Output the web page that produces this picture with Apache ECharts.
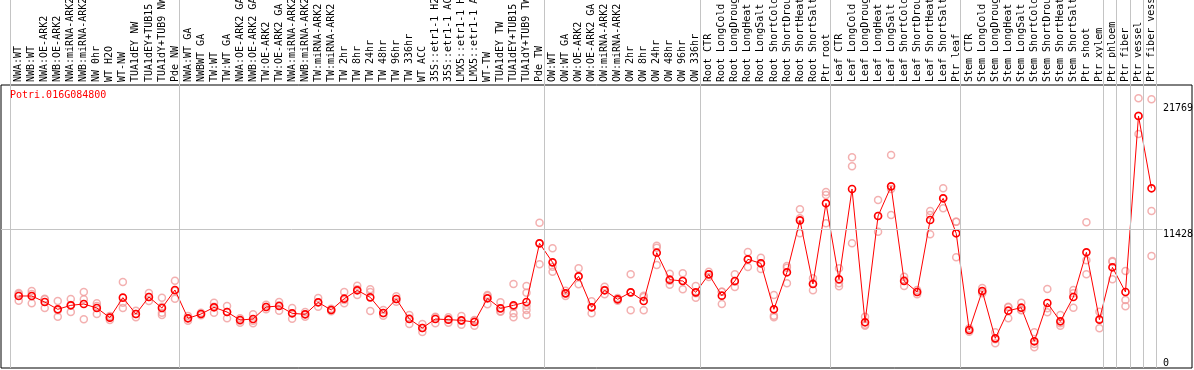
<!DOCTYPE html>
<html>
<head>
<meta charset="utf-8">
<script src="https://cdn.jsdelivr.net/npm/echarts@6/dist/echarts.min.js"></script>
<style>html, body { margin: 0; background: #fff } #chart { width: 1194px; height: 370px }</style>
</head>
<body>
<div id="chart"></div>
<script>
var gene = "Potri.016G084800"
var samples = [
    "NWA:WT", "NWB:WT", "NWA:OE-ARK2", "NWB:OE-ARK2", "NWA:miRNA-ARK2", "NWB:miRNA-ARK2", "NW 0hr", "WT H2O", "WT-NW",
    "TUA1dEY NW", "TUA1dEY+TUB15", "TUA1dY+TUB9 NW", "Pde NW",
    "NWA:WT GA", "NWBWT GA", "TW:WT", "TW:WT GA", "NWA:OE-ARK2 GA", "NWB:OE-ARK2 GA", "TW:OE-ARK2", "TW:OE-ARK2 GA",
    "NWA:miRNA-ARK2", "NWB:miRNA-ARK2", "TW:miRNA-ARK2", "TW:miRNA-ARK2", "TW 2hr", "TW 8hr", "TW 24hr", "TW 48hr", "TW 96hr", "TW 336hr",
    "WT ACC", "35S::etr1-1 H2", "35S::etr1-1 AC", "LMX5::etr1-1 H", "LMX5::etr1-1 A", "WT-TW", "TUA1dEY TW", "TUA1dEY+TUB15", "TUA1dY+TUB9 TW", "Pde TW",
    "OW:WT", "OW:WT GA", "OW:OE-ARK2", "OW:OE-ARK2 GA", "OW:miRNA-ARK2", "OW:miRNA-ARK2", "OW 2hr", "OW 8hr", "OW 24hr", "OW 48hr", "OW 96hr", "OW 336hr",
    "Root CTR", "Root LongCold", "Root LongDrought", "Root LongHeat", "Root LongSalt", "Root ShortCold", "Root ShortDrought", "Root ShortHeat", "Root ShortSalt", "Ptr root",
    "Leaf CTR", "Leaf LongCold", "Leaf LongDrought", "Leaf LongHeat", "Leaf LongSalt", "Leaf ShortCold", "Leaf ShortDrought", "Leaf ShortHeat", "Leaf ShortSalt", "Ptr leaf",
    "Stem CTR", "Stem LongCold", "Stem LongDrought", "Stem LongHeat", "Stem LongSalt", "Stem ShortCold", "Stem ShortDrought", "Stem ShortHeat", "Stem ShortSalt", "Ptr shoot", "Ptr xylem",
    "Ptr phloem", "Ptr fiber", "Ptr vessel", "Ptr fiber vessel"
]
var groups = [13, 28, 12, 10, 10, 11, 1, 1, 1, 1]
var means = [
    5923, 5923, 5429, 4826, 5155, 5265, 4936, 4141, 5786, 4442, 5840, 4936, 6416,
    4086, 4442, 4991, 4607, 3948, 4031, 5018, 5100, 4497, 4415, 5402, 4771, 5703, 6389, 5813, 4524, 5676, 4031,
    3290, 4031, 3976, 3921, 3784, 5731, 4908, 5155, 5429, 10255,
    8692, 6142, 7541, 4991, 6389, 5649, 6224, 5511, 9487, 7266, 7157, 6224,
    7705, 5950, 7157, 8939, 8610, 4826, 7870, 12147, 6910, 13546,
    7294, 14725, 3757, 12504, 14944, 7157, 6252, 12174, 13957, 11078,
    3126, 6334, 2440, 4716, 4963, 2194, 5347, 3839, 5840, 9515, 3976,
    8281, 6252, 20730, 14780
]
var reps = [
    [6170, 6060, 5539], [6334, 6087, 5320], [5703, 5649, 4936], [5511, 4744, 4223], [5676, 5182, 4607],
    [6252, 5649, 4003], [5320, 5100, 4442], [4278, 4168, 3948], [7074, 5375, 4936], [4716, 4442, 4168],
    [6170, 5840, 5511], [5786, 5045, 4552, 4360], [7184, 6361, 5703], [4278, 4086, 3893], [4552, 4442, 4333],
    [5375, 5045, 4552], [5100, 4607, 4086], [4086, 3893, 3729], [4415, 3893, 3675], [5210, 5018, 4826],
    [5429, 5155, 4716], [4936, 4497, 4058], [4607, 4415, 4223], [5758, 5402, 5045], [4881, 4771, 4662],
    [6252, 5594, 5320], [6773, 6471, 6005], [6471, 6252, 4689], [4771, 4497, 4305], [5895, 5676, 5457],
    [4360, 4086, 3619], [3619, 3290, 2961], [4223, 4168, 3675], [4168, 4003, 3729], [4278, 3893, 3565],
    [3948, 3893, 3482], [6005, 5923, 5237], [5402, 4662, 4634], [6910, 5045, 4497, 4168], [6745, 6197, 5100, 4771, 4360],
    [11955, 10255, 8528], [9844, 8336, 7924], [6361, 6142, 5923], [8199, 7541, 6883], [5484, 4991, 4497],
    [6690, 6416, 6060], [5758, 5649, 5539], [7705, 6224, 4744], [5950, 5840, 4744], [10063, 9898, 8473],
    [7760, 7184, 6855], [7787, 7184, 6471], [6745, 6142, 5786], [7924, 7705, 7486], [6279, 6279, 5265],
    [7705, 7102, 6663], [9542, 8939, 8308], [9076, 8610, 8144], [6005, 4305, 4168], [8391, 8253, 6965],
    [13052, 12312, 11078], [7376, 6965, 6389], [14478, 14231, 11900], [8199, 6965, 6718], [17330, 16589, 10255],
    [4223, 3565, 3482], [13820, 12504, 11215], [17521, 14725, 12586], [7513, 7239, 6745], [6416, 6252, 6060],
    [12915, 12586, 10996], [14780, 13957, 13134], [12037, 12037, 9104], [3263, 3126, 2989], [6581, 6279, 6142],
    [2934, 2358, 2029], [5045, 4991, 4086], [5375, 4771, 4744], [2934, 1974, 1700], [6499, 4908, 4579],
    [4360, 3675, 3482], [6416, 6142, 4963], [11983, 8857, 7705], [4634, 4031, 3263], [8802, 8747, 7294],
    [7979, 5594, 5073], [22183, 20757, 19249], [22101, 12915, 9213]
]
var yTicks = [0, 11428, 21769]
var gridValue = 11428

var font = "DejaVu Sans Mono", grey = "#c4c4c4"
var xMin = -1.36, xMax = 90.11, yMax = 23280, shift = 0.67, gridEnd = 87.85

var edges = groups.reduce(function(list, n) { return list.concat(list[list.length-1]+n) }, [0])
var seps = edges.map(function(k) { return {xAxis: k-shift} })
var lineStyle = {color: grey, width: 1, type: "solid"}
var mark = function(data) { return {silent: true, symbol: "none", label: {show: false}, lineStyle: lineStyle, animation: false, data: data} }

var points = []; reps.forEach(function(list, i) { list.forEach(function(v) { points.push([i, v]) }) })
var hide = {show: false}

var chart = echarts.init(document.getElementById("chart"))
chart.setOption({animation: false, backgroundColor: "#fff",
    title: {text: gene, left: 10, top: 90, padding: 0, textStyle: {color: "#ff0000", fontSize: 10, fontWeight: "normal", fontFamily: font}},
    grid: [
        {left: 1, right: 2, top: 85, bottom: 2, outerBoundsMode: "none", containLabel: false, show: true, borderColor: "#000", borderWidth: 1, backgroundColor: "transparent"},
        {left: 1, right: 2, top: 0, height: 85, outerBoundsMode: "none", containLabel: false},
    ],
    xAxis: [
        {gridIndex: 0, type: "value", position: "top", min: xMin, max: xMax, axisLine: hide, axisTick: hide, splitLine: hide,
            axisLabel: {customValues: samples.map(function(s, i) { return i }), formatter: function(v) { return samples[v] },
                rotate: 90, margin: 3, fontSize: 10, fontFamily: font, color: "#000"}},
        {gridIndex: 1, type: "value", min: xMin, max: xMax, show: false},
    ],
    yAxis: [
        {gridIndex: 0, type: "value", position: "right", min: 0, max: yMax, axisLine: hide, axisTick: hide, splitLine: hide,
            axisLabel: {inside: true, customValues: yTicks, formatter: function(v) { return String(v) }, align: "left", margin: 29,
                verticalAlign: "top", verticalAlignMinLabel: "bottom", fontSize: 10, fontFamily: font, color: "#000"}},
        {gridIndex: 1, type: "value", min: 0, max: 1, show: false},
    ],
    series: [
        {type: "line", xAxisIndex: 1, yAxisIndex: 1, data: [], markLine: mark(seps)},
        {type: "scatter", xAxisIndex: 0, yAxisIndex: 0, data: points, symbol: "circle", symbolSize: 7, z: 2,
            itemStyle: {color: "rgba(0,0,0,0)", borderColor: "#f09c9c", borderWidth: 1.5},
            markLine: mark(seps.concat([[{coord: [xMin, gridValue]}, {coord: [gridEnd, gridValue]}]]))},
        {type: "line", xAxisIndex: 0, yAxisIndex: 0, data: means.map(function(v, i) { return [i, v] }), symbol: "circle", symbolSize: 7, z: 3,
            itemStyle: {color: "rgba(0,0,0,0)", borderColor: "#ff0000", borderWidth: 1.6}, lineStyle: {color: "#ff0000", width: 1}},
    ],
})
</script>
</body>
</html>
